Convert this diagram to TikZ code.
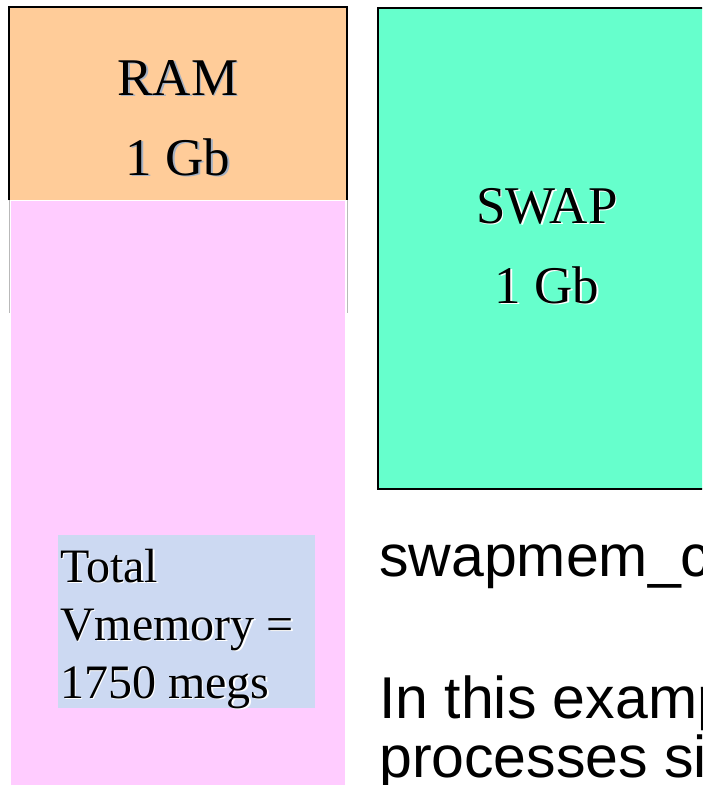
\documentclass[tikz,border=0pt]{standalone}
\usepackage{fontspec}
\setmainfont{Liberation Serif}
\newfontfamily\arialfont{Liberation Sans}
\usepackage{tikz}
\usetikzlibrary{positioning}

\definecolor{ramorange}{HTML}{FFCC99}
\definecolor{vmpink}{HTML}{FFCCFF}
\definecolor{swapgreen}{HTML}{66FFCC}
\definecolor{totalblue}{HTML}{CCD9F2}
\definecolor{shadowgray}{HTML}{A4B0C2}

% text with a small drop shadow
\newcommand{\shtxt}[2]{\leavevmode\rlap{\kern1.6pt\raisebox{-1.6pt}{\textcolor{#1}{#2}}}#2}

\tikzset{
  memblock/.style={rectangle, inner sep=0pt, anchor=north west},
  bigserif/.style={inner sep=0pt, font=\fontsize{53}{80}\selectfont},
  smallserif/.style={inner sep=0pt, anchor=base west, font=\fontsize{48}{58}\selectfont},
  slidetext/.style={inner sep=0pt, anchor=base west, font=\arialfont\fontsize{59}{59}\selectfont}
}

\begin{document}
\begin{tikzpicture}[x=1pt, y=-1pt]
  \useasboundingbox (0,0) rectangle (702,785);
  \clip (0,0) rectangle (702,785);
  \fill[white] (0,0) rectangle (702,785);

  % RAM
  \node[memblock, fill=ramorange, minimum width=338pt, minimum height=193pt] (ram) at (9,7) {};
  \draw[line width=2pt] (ram.south west) -- (ram.north west) -- (ram.north east) -- (ram.south east);
  \draw[gray!55, line width=1pt] (ram.south west) -- ++(0,113);
  \draw[gray!55, line width=1pt] (ram.south east) -- ++(0,113);
  \node[bigserif, anchor=base] (ramname) at (178,95) {\shtxt{shadowgray}{RAM}};
  \node[bigserif, anchor=base] (ramsize) at (178,175) {\shtxt{shadowgray}{1 Gb}};

  % virtual memory
  \node[memblock, fill=vmpink, minimum width=334pt, minimum height=600pt] (vmem) at (11,201) {};
  \node[memblock, fill=totalblue, minimum width=257pt, minimum height=173pt] (total) at (58,535) {};
  \node[smallserif] (totalA) at (60,582) {\shtxt{white}{Total}};
  \node[smallserif] (totalB) at (60,640) {\shtxt{white}{Vmemory =}};
  \node[smallserif] (totalC) at (60,698) {\shtxt{white}{1750 megs}};

  % SWAP
  \node[memblock, fill=swapgreen, draw=black, line width=2pt, minimum width=343pt, minimum height=481pt] (swap) at (377,7) {};
  \node[bigserif, anchor=base] (swapname) at (547,223) {\shtxt{white}{SWAP}};
  \node[bigserif, anchor=base] (swapsize) at (547,303) {\shtxt{white}{1 Gb}};

  % slide text
  \node[slidetext] (param) at (379,576) {swapmem\_c};
  \node[slidetext] (expl) at (379,718) {In this examp};
  \node[slidetext] (explB) at (379,777) {processes si};
\end{tikzpicture}
\end{document}
